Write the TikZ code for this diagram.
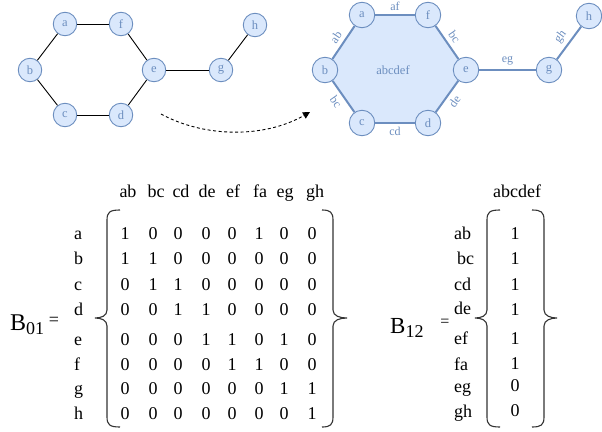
\documentclass[tikz,border=0pt]{standalone}
\usepackage{fontspec}
\setmainfont{Liberation Serif}
\newfontfamily\tms{Liberation Serif}
\usetikzlibrary{arrows.meta,backgrounds}
\definecolor{nfill}{HTML}{DAE8FC}
\definecolor{nline}{HTML}{6C8EBF}
\definecolor{brc}{HTML}{333333}
\newcommand\mtxrow[3]{\foreach \v [count=\j] in {#3} {\pgfmathsetmacro{\xx}{{125,153,178,206,232,259,284,312}[\j-1]}\node[mnum] (m#1-\j) at (\xx,#2) {\v};}}
\begin{document}
\begin{tikzpicture}[x=1pt,y=-1pt,
  vtx/.style={circle,draw=nline,fill=nfill,line width=0.9pt,minimum size=23.5pt,inner sep=0pt,text=nline,font=\tms\fontsize{12.5}{12.5}\selectfont},
  vtxb/.style={vtx,minimum size=25.5pt},
  ledge/.style={draw=black,line width=0.9pt},
  redge/.style={draw=nline,line width=2pt},
  elab/.style={text=nline,font=\tms\fontsize{12}{12}\selectfont,inner sep=0pt,sloped},
  mnum/.style={font=\tms\fontsize{18}{18}\selectfont,inner sep=0pt,anchor=base},
  mlab/.style={font=\tms\fontsize{18}{18}\selectfont,inner sep=0pt,anchor=base west},
  bracestyle/.style={draw=brc,line width=1.1pt},
]
\useasboundingbox (0,0) rectangle (602,431);

% ---------- left graph ----------
\node[vtx] (a) at (65,24) {a};
\node[vtx] (f) at (121,24) {f};
\node[vtx] (b) at (30,70) {b};
\node[vtx] (e) at (154,70) {e};
\node[vtx] (c) at (65,115) {c};
\node[vtx] (d) at (121,115) {d};
\node[vtx] (g) at (221,70) {g};
\node[vtx] (h) at (255,25) {h};
\draw[ledge] (a) -- (f);
\draw[ledge] (a) -- (b);
\draw[ledge] (b) -- (c);
\draw[ledge] (c) -- (d);
\draw[ledge] (d) -- (e);
\draw[ledge] (f) -- (e);
\draw[ledge] (e) -- (g);
\draw[ledge] (g) -- (h);

% ---------- arrow ----------
\coordinate (as) at (161,114);
\coordinate (at) at (310,112);
\draw[line width=0.9pt,dash pattern=on 3pt off 2.5pt,-{Triangle[length=7pt,width=7pt]}] (as) .. controls (205,138) and (265,138) .. (at);

% ---------- right graph ----------
\node[vtxb] (A) at (362,15) {a};
\node[vtxb] (F) at (428,15) {f};
\node[vtxb] (B) at (325,70) {b};
\node[vtxb] (E) at (466,70) {e};
\node[vtxb] (C) at (362,123) {c};
\node[vtxb] (D) at (428,123) {d};
\node[vtxb] (G) at (549,70) {g};
\node[vtxb] (H) at (589,16) {h};
\begin{scope}[on background layer]
\fill[nfill] (A.center) -- (F.center) -- (E.center) -- (D.center) -- (C.center) -- (B.center) -- cycle;
\end{scope}
\node[text=nline,font=\tms\fontsize{12.5}{12.5}\selectfont] (hex) at (393,70) {abcdef};
\draw[redge] (A) -- node[elab,above=3.5pt] (laf) {af} (F);
\draw[redge] (B) -- node[elab,above=4pt] (lab) {ab} (A);
\draw[redge] (F) -- node[elab,above=4pt] (lfe) {bc} (E);
\draw[redge] (B) -- node[elab,below=4pt] (lbc) {bc} (C);
\draw[redge] (C) -- node[elab,below=3.5pt] (lcd) {cd} (D);
\draw[redge] (D) -- node[elab,below=4pt] (lde) {de} (E);
\draw[redge] (E) -- node[elab,above=4pt] (leg) {eg} (G);
\draw[redge] (G) -- node[elab,above=4pt] (lgh) {gh} (H);

% ---------- matrix B01 ----------
\node[inner sep=0pt,anchor=base west,font=\tms] (B01) at (10,330) {{\fontsize{24}{24}\selectfont B}{\fontsize{18}{18}\selectfont\raisebox{-4pt}{01}}};
\node[inner sep=0pt,anchor=base,font=\tms\fontsize{18}{18}\selectfont] (eq1) at (54,325) {=};

\foreach \t/\x [count=\k] in {ab/128,bc/156,cd/181,de/207,ef/233,fa/260,eg/285,gh/315}
  \node[mnum] (hd\k) at (\x,197) {\t};
\foreach \t/\y [count=\k] in {a/239,b/264,c/290,d/315,e/345,f/370,g/394,h/419}
  \node[mlab] (rl\k) at (74,\y) {\t};

\mtxrow{1}{239}{1,0,0,0,0,1,0,0}
\mtxrow{2}{264}{1,1,0,0,0,0,0,0}
\mtxrow{3}{290}{0,1,1,0,0,0,0,0}
\mtxrow{4}{315}{0,0,1,1,0,0,0,0}
\mtxrow{5}{345}{0,0,0,1,1,0,1,0}
\mtxrow{6}{370}{0,0,0,0,1,1,0,0}
\mtxrow{7}{394}{0,0,0,0,0,0,1,1}
\mtxrow{8}{419}{0,0,0,0,0,0,0,1}

\draw[bracestyle] (120,210) .. controls (110,210) and (107,212) .. (107,220) -- (107,310)
  .. controls (107,316) and (101,318) .. (95,318) .. controls (101,318) and (107,320) .. (107,326)
  -- (107,417) .. controls (107,425) and (110,427) .. (120,427);
\draw[bracestyle] (322,210) .. controls (330,210) and (333,212) .. (333,220) -- (333,310)
  .. controls (333,316) and (340,318) .. (347,318) .. controls (340,318) and (333,320) .. (333,326)
  -- (333,417) .. controls (333,425) and (330,427) .. (322,427);

% ---------- matrix B12 ----------
\node[inner sep=0pt,anchor=base west,font=\tms] (B12) at (390,333) {{\fontsize{23}{23}\selectfont B}{\fontsize{18}{18}\selectfont\raisebox{-4pt}{12}}};
\node[inner sep=0pt,anchor=base,font=\tms\fontsize{16}{16}\selectfont] (eq2) at (445,326) {=};
\node[mnum] (hd12) at (517,197) {abcdef};
\foreach \t/\x/\y [count=\k] in {ab/454/239,bc/457/264,cd/454/290,de/454/314,ef/454/344,fa/454/370,eg/454/392,gh/454/417}
  \node[mlab] (rm\k) at (\x,\y) {\t};
\foreach \v/\y [count=\k] in {1/239,1/264,1/290,1/315,1/344,1/369,0/391,0/416}
  \node[mnum] (n\k) at (515,\y) {\v};

\draw[bracestyle] (500,210) .. controls (490,210) and (487,212) .. (487,220) -- (487,310)
  .. controls (487,316) and (481,318) .. (475,318) .. controls (481,318) and (487,320) .. (487,326)
  -- (487,417) .. controls (487,425) and (490,427) .. (500,427);
\draw[bracestyle] (532,210) .. controls (541,210) and (544,212) .. (544,220) -- (544,310)
  .. controls (544,316) and (551,318) .. (557,318) .. controls (551,318) and (544,320) .. (544,326)
  -- (544,417) .. controls (544,425) and (541,427) .. (532,427);
\end{tikzpicture}
\end{document}
